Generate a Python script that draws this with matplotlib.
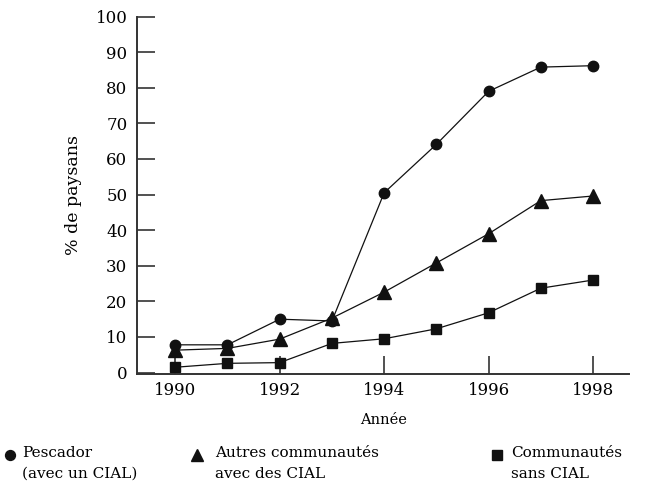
import numpy as np
import matplotlib.pyplot as plt
from matplotlib.lines import Line2D

# Data
years = [1990, 1991, 1992, 1993, 1994, 1995, 1996, 1997, 1998]
pescador = [7.8, 7.8, 15.0, 14.5, 50.5, 64.1, 79.0, 85.8, 86.2]
autres = [6.3, 6.8, 9.4, 15.3, 22.6, 30.8, 39.0, 48.3, 49.6]
sans_cial = [1.5, 2.6, 2.8, 8.2, 9.5, 12.3, 16.8, 23.7, 26.0]

labels = ["Pescador\n(avec un CIAL)",
          "Autres communautés\navec des CIAL",
          "Communautés\nsans CIAL"]
markers = ["o", "^", "s"]
msizes = [7.5, 9.5, 7.5]

plt.rcParams['font.family'] = ['DejaVu Serif']

fig = plt.figure(figsize=(6.56, 4.87), dpi=100)
ax = fig.add_axes([0.209, 0.232, 0.750, 0.734])

for series, m, ms in zip([pescador, autres, sans_cial], markers, msizes):
    ax.plot(years, series, marker=m, markersize=ms, color="#111111",
            linewidth=0.9, clip_on=False)

ax.set_xlim(1989.27, 1998.69)
ax.set_ylim(-0.4, 100)
ax.set_xticks(np.arange(1990, 1999, 2))
ax.set_yticks(np.arange(0, 101, 10))

for side in ["top", "right"]:
    ax.spines[side].set_visible(False)
for side in ["left", "bottom"]:
    ax.spines[side].set_linewidth(1.4)
    ax.spines[side].set_color("#333333")

ax.tick_params(direction="in", length=13, width=1.1, color="#222222",
               labelsize=12)
ax.tick_params(axis="y", pad=7)
ax.tick_params(axis="x", pad=6)

ax.set_ylabel("% de paysans", fontsize=12.5, labelpad=10)
ax.set_xlabel("Année", fontsize=10.5, labelpad=10)

# Legend drawn below the axes
leg_marker_x = [10, 197, 497]
leg_text_x = [22, 215, 511]
leg_y = 455
for lab, m, ms, mx, tx in zip(labels, markers, msizes, leg_marker_x, leg_text_x):
    fig.add_artist(Line2D([mx / 656], [1 - leg_y / 487], marker=m,
                          markersize=ms * 0.95, color="#111111",
                          linestyle="none", transform=fig.transFigure))
    fig.text(tx / 656, 1 - (leg_y - 9) / 487, lab, fontsize=11,
             va="top", ha="left", linespacing=1.6)

fig.savefig("out.png", dpi=100)
